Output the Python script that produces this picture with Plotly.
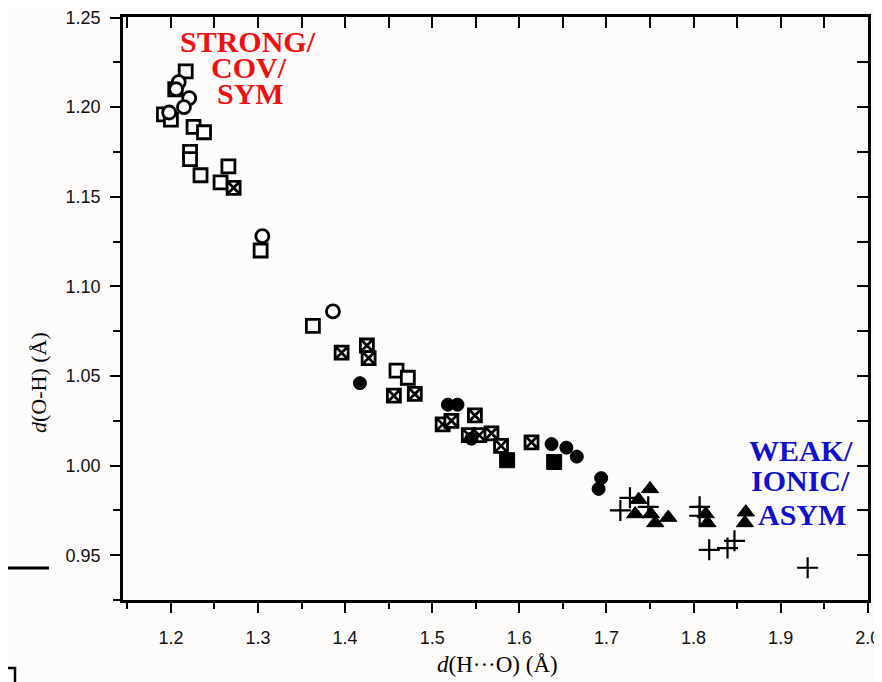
import plotly.graph_objects as go

# ---- data (d(H...O) vs d(O-H), Angstrom) ----
open_sq_x = [1.217, 1.205, 1.192, 1.200, 1.226, 1.238, 1.222, 1.222, 1.234, 1.266, 1.257, 1.303, 1.363, 1.459, 1.472]
open_sq_y = [1.220, 1.210, 1.196, 1.193, 1.189, 1.186, 1.175, 1.171, 1.162, 1.167, 1.158, 1.120, 1.078, 1.053, 1.049]

open_circ_x = [1.209, 1.206, 1.221, 1.215, 1.198, 1.305, 1.386]
open_circ_y = [1.214, 1.210, 1.205, 1.200, 1.197, 1.128, 1.086]

xsq_x = [1.272, 1.396, 1.425, 1.427, 1.456, 1.480, 1.512, 1.522, 1.549, 1.542, 1.554, 1.568, 1.579, 1.614]
xsq_y = [1.155, 1.063, 1.067, 1.060, 1.039, 1.040, 1.023, 1.025, 1.028, 1.017, 1.017, 1.018, 1.011, 1.013]

filled_sq_x = [1.586, 1.640]
filled_sq_y = [1.003, 1.002]

filled_circ_x = [1.417, 1.518, 1.529, 1.545, 1.637, 1.654, 1.666, 1.694, 1.691]
filled_circ_y = [1.046, 1.034, 1.034, 1.015, 1.012, 1.010, 1.005, 0.993, 0.987]

tri_x = [1.750, 1.737, 1.733, 1.751, 1.756, 1.771, 1.814, 1.816, 1.860, 1.859]
tri_y = [0.987, 0.981, 0.973, 0.973, 0.968, 0.971, 0.973, 0.968, 0.974, 0.968]

cross_x = [1.716, 1.727, 1.748, 1.807, 1.807, 1.818, 1.839, 1.847, 1.931]
cross_y = [0.975, 0.982, 0.977, 0.977, 0.972, 0.953, 0.954, 0.958, 0.943]

x_range = [1.145, 2.0003]
y_range = [0.925, 1.2503]

BG = "#fdfcfa"
INK = "black"

fig = go.Figure()

def add(xs, ys, symbol, size, fill, lw):
    fig.add_trace(go.Scatter(
        x=xs, y=ys, mode="markers", showlegend=False, hoverinfo="skip",
        marker=dict(symbol=symbol, size=size, color=fill,
                    line=dict(color=INK, width=lw))))

add(open_sq_x, open_sq_y, "square", 13, BG, 2.8)
add(open_circ_x, open_circ_y, "circle", 13, BG, 2.8)
add(xsq_x, xsq_y, "square-x", 13, BG, 2.8)
add(filled_sq_x, filled_sq_y, "square", 15, INK, 1)
add(filled_circ_x, filled_circ_y, "circle", 13, INK, 1)
add(tri_x, tri_y, "triangle-up", 15, INK, 1)
add(cross_x, cross_y, "cross-thin", 15, INK, 2.2)

# dummy trace so the mirrored (top/right) axes render
fig.add_trace(go.Scatter(x=[None], y=[None], xaxis="x2", yaxis="y2",
                         mode="markers", showlegend=False, hoverinfo="skip"))

tickfont = dict(family="Liberation Sans, Arial, sans-serif", size=18, color="#111")
serif = "Liberation Serif, Times New Roman, serif"

# the page body has an 8px margin, so the figure is drawn 8px in from the window corner
fig.update_layout(
    width=874, height=674,
    margin=dict(l=115, r=14, t=9, b=82, autoexpand=False),
    paper_bgcolor=BG, plot_bgcolor=BG,
    xaxis=dict(range=x_range, tick0=1.2, dtick=0.1, tickformat=".1f",
               ticks="outside", ticklen=10, tickwidth=2.2, tickcolor=INK,
               minor=dict(dtick=0.05, tick0=1.2, ticks="outside", ticklen=6,
                          tickwidth=1.8, tickcolor=INK),
               showline=True, linewidth=2.5, linecolor=INK, automargin=False,
               showgrid=False, zeroline=False, tickfont=tickfont,
               ticklabelstandoff=10, ticklabeloverflow="allow"),
    yaxis=dict(range=y_range, tick0=0.95, dtick=0.05, tickformat=".2f",
               ticks="outside", ticklen=10, tickwidth=2.2, tickcolor=INK,
               minor=dict(dtick=0.025, tick0=0.95, ticks="outside", ticklen=7,
                          tickwidth=1.8, tickcolor=INK),
               showline=True, linewidth=2.5, linecolor=INK, automargin=False,
               showgrid=False, zeroline=False, tickfont=tickfont,
               ticklabelstandoff=6, ticklabeloverflow="allow"),
    xaxis2=dict(range=x_range, overlaying="x", side="top", tick0=1.2, dtick=0.05,
                ticks="inside", ticklen=11, tickwidth=2, tickcolor=INK, automargin=False,
                showticklabels=False, showline=True, linewidth=2.5, linecolor=INK,
                showgrid=False, zeroline=False),
    yaxis2=dict(range=y_range, overlaying="y", side="right", tick0=0.95, dtick=0.025,
                ticks="inside", ticklen=11, tickwidth=2, tickcolor=INK, automargin=False,
                showticklabels=False, showline=True, linewidth=2.5, linecolor=INK,
                showgrid=False, zeroline=False),
)

def px2paper(px, py):
    # window pixel -> paper coords (plot area spans window x 123..868, y 17..600)
    return (px - 123) / 745.0, (600 - py) / 583.0

annots = []
def text_at(px, py, txt, size, color, bold=True, angle=0, family=serif):
    x, y = px2paper(px, py)
    annots.append(dict(x=x, y=y, xref="paper", yref="paper", text=(f"<b>{txt}</b>" if bold else txt),
                       showarrow=False, xanchor="center", yanchor="middle", textangle=angle,
                       font=dict(family=family, size=size, color=color)))

RED = "#ee1111"
BLUE = "#1111cc"
for (px, py, t) in [(248, 41, "STRONG/"), (249, 67, "COV/"), (250, 94, "SYM")]:
    text_at(px, py, t, 30, RED)
for (px, py, t) in [(801, 450, "WEAK/"), (800, 480, "IONIC/"), (802, 514, "ASYM")]:
    text_at(px, py, t, 30, BLUE)

text_at(497, 664, "<i>d</i>(H···O) (Å)", 23, INK, bold=False)
text_at(38, 383, "<i>d</i>(O-H) (Å)", 22, INK, bold=False, angle=-90)
text_at(770, 121, "(b)", 22, "#fbfbfb", bold=True)

fig.update_layout(annotations=annots)

# stray scan marks outside the plot area
x0, y0 = px2paper(8, 568)
x1, _ = px2paper(49, 568)
fig.add_shape(type="line", xref="paper", yref="paper", x0=x0, x1=x1, y0=y0, y1=y0,
              line=dict(color=INK, width=3))
sx0, sy0 = px2paper(6, 668)
sx1, sy1 = px2paper(15, 690)
fig.add_shape(type="rect", xref="paper", yref="paper", x0=sx0, x1=sx1, y0=sy0, y1=sy1,
              line=dict(color=INK, width=2.5))

fig.write_html("out.html")
